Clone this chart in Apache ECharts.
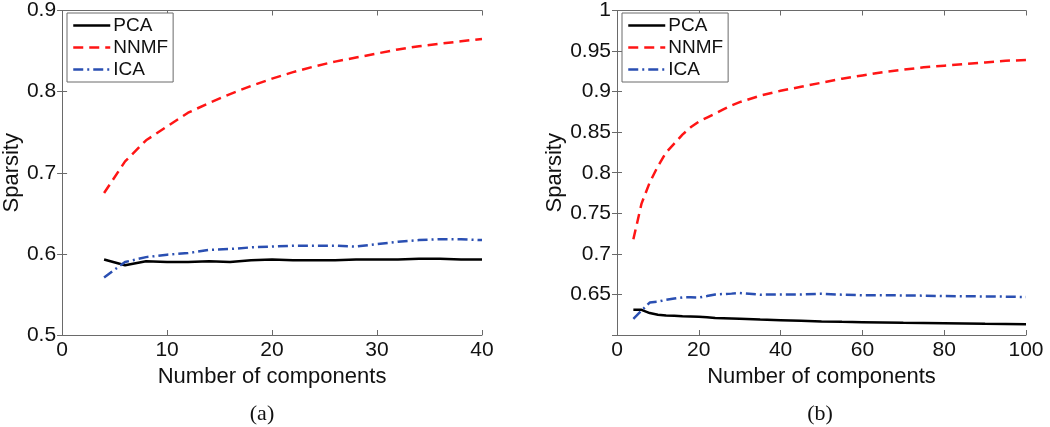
<!DOCTYPE html>
<html><head><meta charset="utf-8">
<script src="https://cdn.jsdelivr.net/npm/echarts@6/dist/echarts.min.js"></script>
<style>html,body{margin:0;padding:0;background:#fff}#c{width:1050px;height:427px}</style>
</head><body><div id="c"></div>
<script>
// ---- data ----
const seriesNames = ['PCA', 'NNMF', 'ICA'];
const xA = [4,6,8,10,12,14,16,18,20,22,24,26,28,30,32,34,36,38,40];
const pcaA = [0.593,0.586,0.591,0.590,0.590,0.591,0.590,0.592,0.593,0.592,0.592,0.592,0.593,0.593,0.593,0.594,0.594,0.593,0.593];
const nnmfA = [0.675,0.714,0.740,0.757,0.774,0.786,0.797,0.807,0.816,0.824,0.831,0.837,0.842,0.847,0.852,0.856,0.859,0.862,0.865];
const icaA = [0.571,0.590,0.596,0.599,0.601,0.605,0.606,0.608,0.609,0.610,0.610,0.610,0.609,0.612,0.615,0.617,0.618,0.618,0.617];

const xB = [4,6,8,10,12,14,16,18,20,22,24,26,28,30,35,40,45,50,55,60,65,70,75,80,85,90,95,100];
const pcaB = [0.631,0.631,0.627,0.625,0.624,0.6236,0.623,0.6228,0.6224,0.622,0.621,0.6208,0.6204,0.620,0.619,0.6183,0.6175,0.6167,0.6162,0.6158,0.6154,0.615,0.6148,0.6146,0.6142,0.6138,0.6136,0.6134];
const nnmfB = [0.718,0.762,0.788,0.808,0.825,0.836,0.847,0.856,0.863,0.868,0.873,0.878,0.883,0.887,0.895,0.901,0.906,0.911,0.916,0.920,0.924,0.927,0.930,0.932,0.934,0.936,0.938,0.939];
const icaB = [0.620,0.630,0.640,0.641,0.6435,0.645,0.6464,0.6464,0.6462,0.648,0.650,0.6505,0.651,0.6517,0.6497,0.650,0.650,0.6508,0.6497,0.649,0.649,0.6488,0.6485,0.648,0.6478,0.6475,0.6473,0.6468];

const xTicksA = {min: 0, max: 40, interval: 10};
const yTicksA = {min: 0.5, max: 0.9, interval: 0.1};
const xTicksB = {min: 0, max: 100, interval: 20};
const yTicksB = {min: 0.6, max: 1.0, interval: 0.05};
const xLabel = 'Number of components';
const yLabel = 'Sparsity';
const panelLabels = ['(a)', '(b)'];

// ---- styles ----
const FONT = 'Liberation Sans, Arial, Helvetica, sans-serif';
const AXC = '#6a6a6a';
const styles = {
  PCA: {color: '#000000', type: 'solid'},
  NNMF: {color: '#ff1515', type: [10, 6]},
  ICA: {color: '#2a4fb2', type: [10, 4, 2, 4]}
};
const pair = (xs, ys) => xs.map((x, i) => [x, ys[i]]);
const fmt = v => String(Math.round(v * 100) / 100);

function mainX(g, t, name) {
  return {type: 'value', gridIndex: g, position: 'bottom', min: t.min, max: t.max, interval: t.interval,
    name: name, nameLocation: 'middle', nameGap: 25,
    nameTextStyle: {fontFamily: FONT, fontSize: 22, color: '#111'},
    axisLine: {show: true, lineStyle: {color: AXC, width: 1}},
    axisTick: {show: true, inside: true, length: 5, lineStyle: {color: AXC}},
    axisLabel: {show: true, fontFamily: FONT, fontSize: 21, color: '#111', margin: 5, formatter: fmt},
    splitLine: {show: false}};
}
function boxX(g, t) {
  return {type: 'value', gridIndex: g, position: 'top', min: t.min, max: t.max, interval: t.interval,
    axisLine: {show: true, lineStyle: {color: AXC, width: 1}},
    axisTick: {show: true, inside: true, length: 5, lineStyle: {color: AXC}},
    axisLabel: {show: false}, splitLine: {show: false}};
}
function mainY(g, t, name, gap, hideMin) {
  return {type: 'value', gridIndex: g, position: 'left', min: t.min, max: t.max, interval: t.interval,
    name: name, nameLocation: 'middle', nameGap: gap, nameRotate: 90,
    nameTextStyle: {fontFamily: FONT, fontSize: 22, color: '#111'},
    axisLine: {show: true, lineStyle: {color: AXC, width: 1}},
    axisTick: {show: true, inside: true, length: 5, lineStyle: {color: AXC}},
    axisLabel: {show: true, fontFamily: FONT, fontSize: 21, color: '#111', margin: 6,
      formatter: v => (hideMin && Math.abs(v - t.min) < 1e-9) ? '' : fmt(v)},
    splitLine: {show: false}};
}
function boxY(g, t) {
  return {type: 'value', gridIndex: g, position: 'right', min: t.min, max: t.max, interval: t.interval,
    axisLine: {show: true, lineStyle: {color: AXC, width: 1}},
    axisTick: {show: true, inside: true, length: 5, lineStyle: {color: AXC}},
    axisLabel: {show: false}, splitLine: {show: false}};
}
function line(name, data, xi, yi) {
  return {type: 'line', name: name, data: data, xAxisIndex: xi, yAxisIndex: yi,
    showSymbol: false, symbol: 'none', smooth: false, animation: false,
    lineStyle: {color: styles[name].color, type: styles[name].type, width: 2.5},
    itemStyle: {color: styles[name].color}, z: 3};
}
function legend(left) {
  return {show: true, orient: 'vertical', left: left, top: 13,
    data: seriesNames, itemWidth: 37, itemHeight: 14, itemGap: 3,
    padding: [3, 5, 3, 5], borderColor: AXC, borderWidth: 1, backgroundColor: '#fff',
    selectedMode: false,
    itemStyle: {opacity: 0},
    lineStyle: {width: 2.5},
    textStyle: {fontFamily: FONT, fontSize: 19, color: '#111', padding: [0, 0, 0, -2]}};
}

const chart = echarts.init(document.getElementById('c'), null, {renderer: 'canvas'});
chart.setOption({
  animation: false,
  backgroundColor: '#fff',
  grid: [
    {left: 60, top: 7, width: 422, height: 328},
    {left: 617, top: 7, width: 409, height: 328}
  ],
  xAxis: [mainX(0, xTicksA, xLabel), boxX(0, xTicksA), mainX(1, xTicksB, xLabel), boxX(1, xTicksB)],
  yAxis: [mainY(0, yTicksA, yLabel, 31, false), boxY(0, yTicksA), mainY(1, yTicksB, yLabel, 47, true), boxY(1, yTicksB)],
  legend: [legend(67), legend(622)],
  series: [
    line('PCA', pair(xA, pcaA), 0, 0),
    line('NNMF', pair(xA, nnmfA), 0, 0),
    line('ICA', pair(xA, icaA), 0, 0),
    line('PCA', pair(xB, pcaB), 2, 2),
    line('NNMF', pair(xB, nnmfB), 2, 2),
    line('ICA', pair(xB, icaB), 2, 2)
  ],
  graphic: [
    {type: 'text', x: 262, y: 414, style: {text: panelLabels[0], font: '22px "Liberation Serif", "Times New Roman", serif', fill: '#111', align: 'center', verticalAlign: 'middle'}},
    {type: 'text', x: 820, y: 414, style: {text: panelLabels[1], font: '22px "Liberation Serif", "Times New Roman", serif', fill: '#111', align: 'center', verticalAlign: 'middle'}}
  ]
});
</script></body></html>
